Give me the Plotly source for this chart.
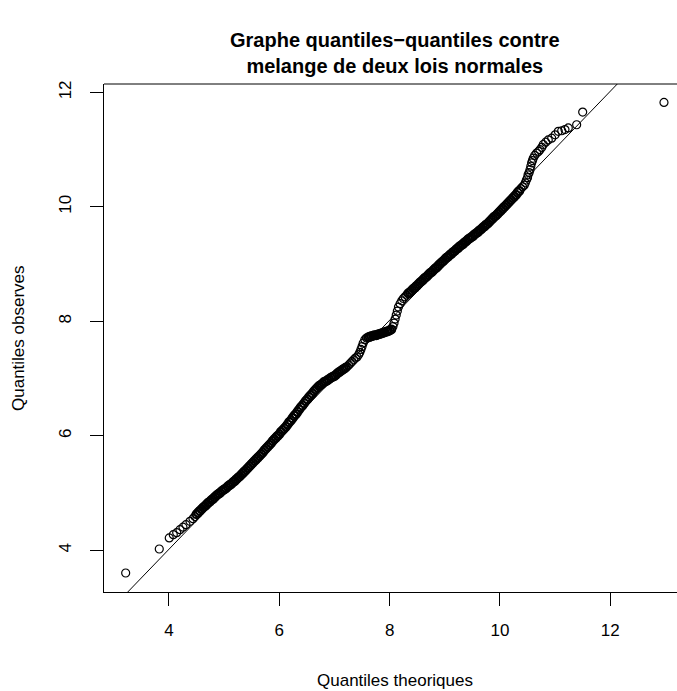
import plotly.graph_objects as go

lower_tail = [(3.215, 3.605), (3.824, 4.024), (4.005, 4.217), (4.078, 4.274), (4.140, 4.309),
              (4.199, 4.361), (4.254, 4.405), (4.308, 4.449), (4.381, 4.507), (4.435, 4.554),
              (4.470, 4.590)]

band_low = [(4.50, 4.63), (4.53, 4.66), (4.56, 4.69), (4.59, 4.72), (4.62, 4.75), (4.65, 4.77),
            (4.68, 4.80), (4.71, 4.83), (4.74, 4.85), (4.77, 4.88), (4.80, 4.90), (4.83, 4.93),
            (4.86, 4.96), (4.89, 4.98), (4.92, 5.00), (4.95, 5.03), (4.98, 5.05), (5.01, 5.07),
            (5.04, 5.09), (5.07, 5.12), (5.10, 5.14), (5.13, 5.16), (5.16, 5.19), (5.19, 5.21),
            (5.22, 5.24), (5.25, 5.27), (5.28, 5.29), (5.31, 5.32), (5.34, 5.35), (5.37, 5.38),
            (5.40, 5.41), (5.43, 5.44), (5.46, 5.47), (5.49, 5.50), (5.52, 5.53), (5.55, 5.56),
            (5.58, 5.59), (5.61, 5.62), (5.64, 5.65), (5.67, 5.68), (5.70, 5.71), (5.73, 5.75),
            (5.76, 5.78), (5.79, 5.81), (5.82, 5.84), (5.85, 5.87), (5.88, 5.91), (5.91, 5.94),
            (5.94, 5.97), (5.97, 6.00), (6.00, 6.03), (6.03, 6.07), (6.06, 6.10), (6.09, 6.13),
            (6.12, 6.16), (6.15, 6.20), (6.18, 6.24), (6.21, 6.27), (6.24, 6.31), (6.27, 6.35),
            (6.30, 6.38), (6.33, 6.42), (6.36, 6.46), (6.39, 6.50), (6.42, 6.53), (6.45, 6.57),
            (6.48, 6.61), (6.51, 6.64), (6.54, 6.68), (6.57, 6.71), (6.60, 6.74), (6.63, 6.78),
            (6.66, 6.81), (6.69, 6.84), (6.72, 6.87), (6.75, 6.89), (6.78, 6.91), (6.81, 6.94),
            (6.84, 6.95), (6.87, 6.97), (6.90, 6.99), (6.93, 7.01), (6.96, 7.03), (6.99, 7.04),
            (7.02, 7.06), (7.05, 7.09), (7.08, 7.11), (7.11, 7.13), (7.14, 7.15), (7.17, 7.17),
            (7.20, 7.19)]

kink = [(7.23, 7.21), (7.26, 7.24), (7.29, 7.27), (7.32, 7.30), (7.35, 7.33), (7.38, 7.36),
        (7.41, 7.38), (7.44, 7.42), (7.46, 7.46), (7.48, 7.51), (7.50, 7.56), (7.52, 7.62),
        (7.55, 7.68), (7.58, 7.71)]

flat = [(7.61, 7.72), (7.64, 7.73), (7.67, 7.74), (7.70, 7.75), (7.73, 7.76), (7.76, 7.76),
        (7.79, 7.77), (7.82, 7.78), (7.85, 7.79), (7.88, 7.80), (7.91, 7.81), (7.94, 7.82),
        (7.97, 7.83), (8.00, 7.84), (8.03, 7.86)]

rise = [(8.06, 7.91), (8.08, 7.97), (8.10, 8.04), (8.12, 8.11), (8.14, 8.18), (8.16, 8.25),
        (8.19, 8.31), (8.22, 8.36), (8.25, 8.40), (8.28, 8.43), (8.31, 8.46)]

band_high = [(8.34, 8.49), (8.37, 8.51), (8.40, 8.54), (8.43, 8.57), (8.46, 8.59), (8.49, 8.62),
             (8.52, 8.65), (8.55, 8.68), (8.58, 8.70), (8.61, 8.73), (8.64, 8.76), (8.67, 8.78),
             (8.70, 8.81), (8.73, 8.84), (8.76, 8.86), (8.79, 8.89), (8.82, 8.92), (8.85, 8.94),
             (8.88, 8.97), (8.91, 9.00), (8.94, 9.03), (8.97, 9.05), (9.00, 9.08), (9.03, 9.11),
             (9.06, 9.13), (9.09, 9.16), (9.12, 9.18), (9.15, 9.21), (9.18, 9.23), (9.21, 9.26),
             (9.24, 9.28), (9.27, 9.31), (9.30, 9.33), (9.33, 9.35), (9.36, 9.38), (9.39, 9.40),
             (9.42, 9.43), (9.45, 9.45), (9.48, 9.47), (9.51, 9.49), (9.54, 9.52), (9.57, 9.54),
             (9.60, 9.56), (9.63, 9.59), (9.66, 9.61), (9.69, 9.64), (9.72, 9.66), (9.75, 9.69),
             (9.78, 9.71), (9.81, 9.74), (9.84, 9.77), (9.87, 9.80), (9.90, 9.83), (9.93, 9.85),
             (9.96, 9.88), (9.99, 9.91), (10.02, 9.94), (10.05, 9.97), (10.08, 10.00), (10.11, 10.03),
             (10.14, 10.06), (10.17, 10.09), (10.20, 10.12), (10.23, 10.15), (10.26, 10.18),
             (10.29, 10.21), (10.32, 10.25), (10.35, 10.28)]

upper_tail = [(10.38, 10.32), (10.41, 10.35), (10.44, 10.38), (10.46, 10.42), (10.48, 10.47),
              (10.50, 10.51), (10.51, 10.56), (10.53, 10.60), (10.545, 10.65), (10.56, 10.71),
              (10.575, 10.77), (10.59, 10.81), (10.604, 10.85), (10.63, 10.90), (10.666, 10.94),
              (10.70, 10.97), (10.726, 11.00), (10.76, 11.04), (10.786, 11.09), (10.83, 11.13),
              (10.876, 11.17), (10.938, 11.20), (11.00, 11.26), (11.058, 11.32), (11.12, 11.33),
              (11.179, 11.35), (11.239, 11.38), (11.391, 11.435), (11.50, 11.657), (12.974, 11.825)]

qq_intercept = 0.02
qq_slope = 1.0

x_range = [2.822, 13.21]
y_range = [3.273, 12.147]
x_ticks = [4, 6, 8, 10, 12]
y_ticks = [4, 6, 8, 10, 12]

title_lines = ["Graphe quantiles\u2212quantiles contre", "melange de deux lois normales"]
x_title = "Quantiles theoriques"
y_title = "Quantiles observes"

# ---- build ----
FONT = "Liberation Sans, Arial, Helvetica, sans-serif"
W, H = 677, 691
ML, MR, MT, MB = 104, 0, 84, 99

fig = go.Figure()


def add_points(pts, lw):
    fig.add_trace(go.Scatter(
        x=[p[0] for p in pts], y=[p[1] for p in pts], mode="markers",
        marker=dict(symbol="circle-open", size=8, color="black",
                    line=dict(width=lw, color="black")),
        showlegend=False, hoverinfo="skip"))


# dense parts of the sample overlap into a solid band
add_points(band_low + flat + band_high, 2.0)
add_points(lower_tail + kink + rise + upper_tail, 1.2)

line_x = list(x_range)
line_y = [qq_intercept + qq_slope * v for v in line_x]
fig.add_trace(go.Scatter(x=line_x, y=line_y, mode="lines",
                         line=dict(color="black", width=1), showlegend=False,
                         hoverinfo="skip"))

axis_common = dict(showgrid=False, zeroline=False, showline=True, linecolor="black",
                   linewidth=1, ticks="outside", ticklen=13, tickwidth=1, tickcolor="black",
                   tickfont=dict(family=FONT, size=17, color="black"))

fig.update_layout(
    width=W, height=H, margin=dict(l=ML, r=MR, t=MT, b=MB, pad=0),
    paper_bgcolor="white", plot_bgcolor="white",
    xaxis=dict(range=x_range, tickvals=x_ticks, ticklabelstandoff=10, **axis_common),
    yaxis=dict(range=y_range, tickvals=y_ticks, tickangle=-90, ticklabelstandoff=12,
               **axis_common),
    shapes=[dict(type="line", xref="paper", yref="paper", x0=0, x1=1, y0=1, y1=1,
                 line=dict(color="black", width=1))],
)

pw = W - ML - MR
ph = H - MT - MB
cx = (395 - ML) / pw

fig.add_annotation(text="<b>" + title_lines[0] + "</b><br><b>" + title_lines[1] + "</b>",
                   xref="paper", yref="paper", x=cx, y=(MT + ph - 53) / ph,
                   xanchor="center", yanchor="middle", showarrow=False,
                   font=dict(family=FONT, size=20, color="black"))
fig.add_annotation(text=x_title, xref="paper", yref="paper", x=cx, y=(MT + ph - 680) / ph,
                   xanchor="center", yanchor="middle", showarrow=False,
                   font=dict(family=FONT, size=17, color="black"))
fig.add_annotation(text=y_title, xref="paper", yref="paper", x=(18 - ML) / pw, y=0.5,
                   xanchor="center", yanchor="middle", textangle=-90, showarrow=False,
                   font=dict(family=FONT, size=17, color="black"))

fig.write_html("out.html")
